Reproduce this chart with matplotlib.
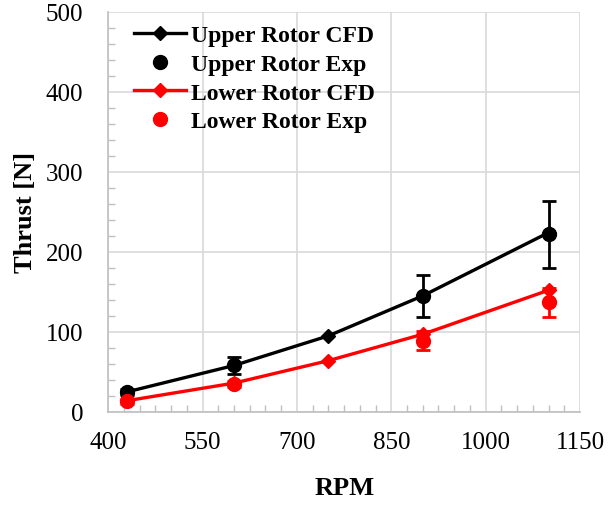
import matplotlib
matplotlib.use("Agg")
import matplotlib.pyplot as plt
from matplotlib.lines import Line2D
from matplotlib.ticker import MultipleLocator

plt.rcParams['font.family'] = ['Liberation Serif', 'DejaVu Serif']

# CFD results
rpm_cfd = [430, 600, 750, 900, 1100]
upper_cfd = [25, 58, 95, 145, 224]
lower_cfd = [14, 36, 64, 97, 152]

# experimental results
rpm_exp = [430, 600, 900, 1100]
upper_exp = [25, 58, 145, 222]
upper_err = [4, 11, 26, 42]
lower_exp = [13, 35, 89, 137]
lower_err = [3, 4, 12, 18]

x_ticks = [400, 550, 700, 850, 1000, 1150]
y_ticks = [0, 100, 200, 300, 400, 500]

fig = plt.figure(figsize=(6.08, 5.06), dpi=100)
ax = fig.add_axes([0.178, 0.184, 0.776, 0.791])

ax.plot(rpm_cfd, upper_cfd, color='black', lw=2.4, marker='D', ms=7, zorder=3)
ax.errorbar(rpm_exp, upper_exp, yerr=upper_err, fmt='o', color='black', ms=10,
            elinewidth=2, capsize=5, capthick=2, zorder=4)
ax.plot(rpm_cfd, lower_cfd, color='#ff0000', lw=2.4, marker='D', ms=7, zorder=3)
ax.errorbar(rpm_exp, lower_exp, yerr=lower_err, fmt='o', color='#ff0000', ms=10,
            elinewidth=2, capsize=5, capthick=2, zorder=4)

ax.set_xlim(400, 1150)
ax.set_ylim(0, 500)
ax.set_xticks(x_ticks)
ax.set_yticks(y_ticks)
ax.xaxis.set_minor_locator(MultipleLocator(25))
ax.yaxis.set_minor_locator(MultipleLocator(20))

ax.grid(True, which='major', color='#d9d9d9', lw=1.2)
ax.set_axisbelow(True)
for s in ['top', 'right']:
    ax.spines[s].set_visible(False)
for s in ['left', 'bottom']:
    ax.spines[s].set_color('#bfbfbf')
    ax.spines[s].set_linewidth(1.2)

ax.tick_params(which='major', length=0, labelsize=18)
ax.tick_params(axis='x', which='major', pad=14)
ax.tick_params(axis='y', which='major', pad=18)
ax.tick_params(which='minor', direction='in', length=5, color='#bfbfbf', width=1)

ax.set_xlabel('RPM', fontsize=19, fontweight='bold', labelpad=16)
ax.set_ylabel('Thrust [N]', fontsize=19, fontweight='bold', labelpad=6)

handles = [
    Line2D([], [], color='black', lw=2.4, marker='D', ms=7),
    Line2D([], [], color='black', ls='none', marker='o', ms=10),
    Line2D([], [], color='#ff0000', lw=2.4, marker='D', ms=7),
    Line2D([], [], color='#ff0000', ls='none', marker='o', ms=10),
]
labels = ['Upper Rotor CFD', 'Upper Rotor Exp', 'Lower Rotor CFD', 'Lower Rotor Exp']
ax.legend(handles, labels, loc='upper left', bbox_to_anchor=(0.01, 1.02), frameon=False,
          prop={'weight': 'bold', 'size': 17}, handlelength=2.2,
          handletextpad=0.2, labelspacing=0.3)

fig.savefig('out.png', dpi=100)
